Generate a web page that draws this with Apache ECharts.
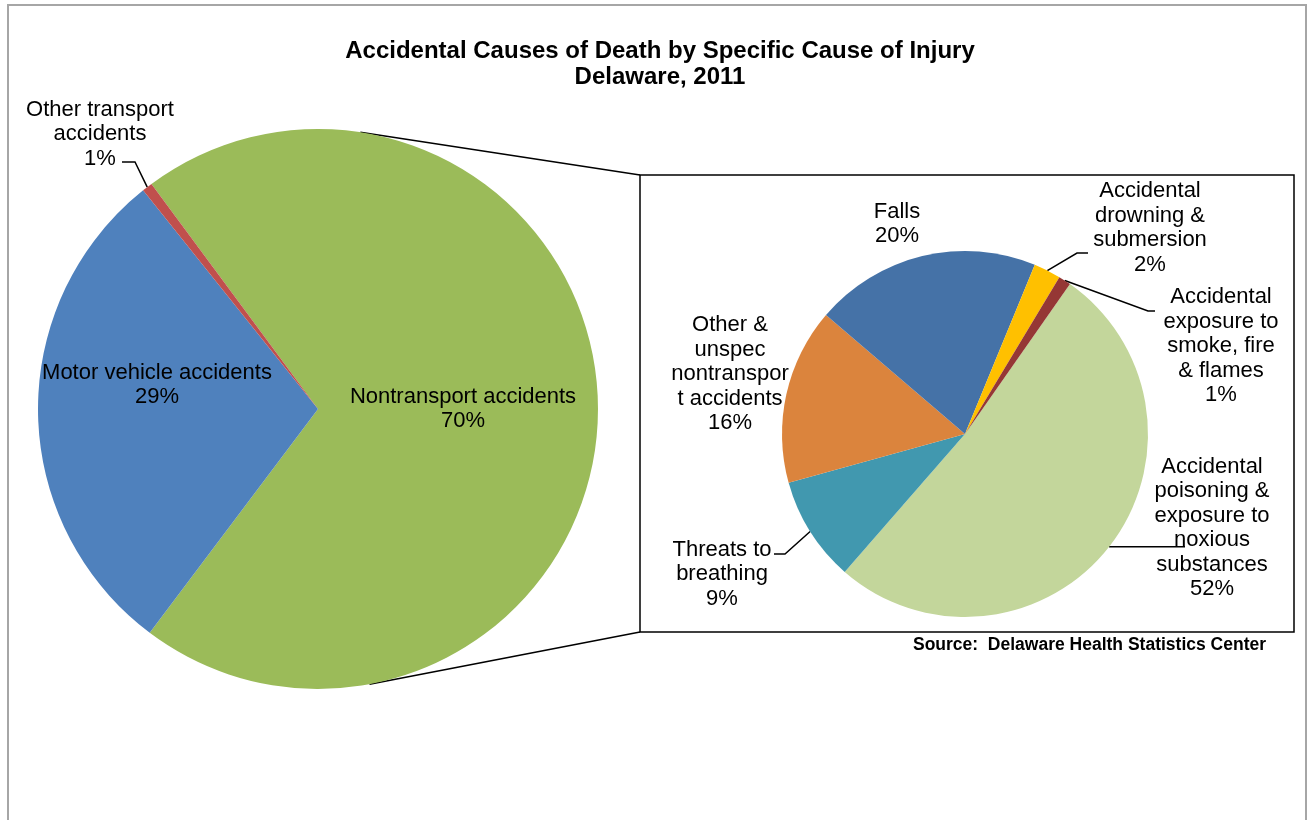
<!DOCTYPE html>
<html><head><meta charset="utf-8">
<script src="https://cdn.jsdelivr.net/npm/echarts@6/dist/echarts.min.js"></script>
<style>html,body{margin:0;padding:0;background:#fff}#c{width:1309px;height:820px}</style>
</head><body><div id="c"></div>
<script>
// ---- data ----
const titleLines = ['Accidental Causes of Death by Specific Cause of Injury', 'Delaware, 2011'];
const sourceText = 'Source:  Delaware Health Statistics Center';

const mainCategories = ['Nontransport accidents', 'Motor vehicle accidents', 'Other transport accidents'];
const mainLabelText = ['Nontransport accidents', 'Motor vehicle accidents', 'Other transport\naccidents'];
const mainValues = [70.4, 29.0, 0.6];

const subCategories = [
  'Accidental poisoning & exposure to noxious substances',
  'Threats to breathing',
  'Other & unspec nontransport accidents',
  'Falls',
  'Accidental drowning & submersion',
  'Accidental exposure to smoke, fire & flames'
];
const subLabelText = [
  'Accidental\npoisoning &\nexposure to\nnoxious\nsubstances',
  'Threats to\nbreathing',
  'Other &\nunspec\nnontranspor\nt accidents',
  'Falls',
  'Accidental\ndrowning &\nsubmersion',
  'Accidental\nexposure to\nsmoke, fire\n& flames'
];
const subValues = [51.8, 9.3, 15.6, 20.0, 2.4, 1.1];

// ---- layout & style ----
const FONT = '"Liberation Sans", Arial, sans-serif';
const MAIN = {cx: 318, cy: 409, r: 280, start: 126.5};
const SUB = {cx: 965, cy: 434, r: 183, start: 55};
const mainColors = ['#9BBB59', '#4F81BD', '#C0504D'];
const subColors = ['#C3D69B', '#4198AF', '#DB843D', '#4572A7', '#FFC000', '#953735'];

const mainLabelPos = [[463, 409], [157, 385], [100, 134]];
const mainLeaderBends = {2: [[135, 162], [122, 162]]};
const subLabelPos = [[1212, 528], [722, 574], [730, 374], [897, 224], [1150, 228], [1221, 346]];
const subLeaderBends = {0: [[1185, null]], 1: [[785, 554], [774, 554]], 4: [[1077, 253], [1088, 253]], 5: [[1148, 311], [1155, 311]]};

function midAngle(values, start, idx) {
  const total = values.reduce((a, b) => a + b, 0);
  let acc = 0;
  for (let i = 0; i < idx; i++) acc += values[i];
  return start - (acc + values[idx] / 2) / total * 360;
}
function edgePoint(g, ang) {
  const a = ang * Math.PI / 180;
  return [g.cx + g.r * Math.cos(a), g.cy - g.r * Math.sin(a)];
}
function leader(g, values, idx, bends) {
  const p0 = edgePoint(g, midAngle(values, g.start, idx));
  return [p0].concat(bends.map(b => [b[0], b[1] == null ? p0[1] : b[1]]));
}

function makeData(cats, vals, texts, colors, bends) {
  return cats.map((c, i) => ({
    name: c, value: vals[i], labelText: texts[i],
    itemStyle: {color: colors[i]},
    labelLine: {show: !!bends[i]}
  }));
}

const labelStyle = {
  show: true, position: 'outside', color: '#000', fontFamily: FONT, fontSize: 22, lineHeight: 24.5,
  align: 'center',
  formatter: p => p.data.labelText + '\n' + Math.round(p.percent) + '%'
};

function layoutFn(g, vals, pos, bends) {
  return function (params) {
    const i = params.dataIndex;
    const out = {x: pos[i][0], y: pos[i][1], align: 'center', verticalAlign: 'middle', hideOverlap: false, moveOverlap: null};
    if (bends[i]) out.labelLinePoints = leader(g, vals, i, bends[i]);
    return out;
  };
}

const chart = echarts.init(document.getElementById('c'), null, {renderer: 'canvas'});

const ang1 = 81.3 * Math.PI / 180, ang2 = -79.4 * Math.PI / 180;
const boxL = 640, boxT = 175, boxR = 1294, boxB = 632;

chart.setOption({
  animation: false,
  backgroundColor: '#fff',
  title: {
    text: titleLines.join('\n'),
    left: 655, top: 33, textAlign: 'center',
    textStyle: {fontFamily: FONT, fontSize: 24, fontWeight: 'bold', color: '#000', lineHeight: 26}
  },
  graphic: [
    {type: 'rect', shape: {x: 8, y: 5, width: 1298, height: 840}, style: {fill: 'none', stroke: '#A6A6A6', lineWidth: 2}, silent: true},
    {type: 'rect', shape: {x: boxL, y: boxT, width: boxR - boxL, height: boxB - boxT}, style: {fill: 'none', stroke: '#000', lineWidth: 1.5}, silent: true},
    {type: 'line', shape: {x1: MAIN.cx + MAIN.r * Math.cos(ang1), y1: MAIN.cy - MAIN.r * Math.sin(ang1), x2: boxL, y2: boxT}, style: {stroke: '#000', lineWidth: 1.5}, silent: true},
    {type: 'line', shape: {x1: MAIN.cx + MAIN.r * Math.cos(ang2), y1: MAIN.cy - MAIN.r * Math.sin(ang2), x2: boxL, y2: boxB}, style: {stroke: '#000', lineWidth: 1.5}, silent: true},
    {type: 'text', x: 1266, y: 645, style: {text: sourceText, fontFamily: FONT, fontSize: 17.5, fontWeight: 'bold', fill: '#000', textAlign: 'right', textVerticalAlign: 'middle'}, silent: true}
  ],
  series: [
    {
      type: 'pie', center: [MAIN.cx, MAIN.cy], radius: MAIN.r, startAngle: MAIN.start, clockwise: true,
      avoidLabelOverlap: false, silent: true, minShowLabelAngle: 0,
      itemStyle: {borderWidth: 0},
      label: labelStyle,
      labelLine: {lineStyle: {color: '#000', width: 1.5}, smooth: false},
      labelLayout: layoutFn(MAIN, mainValues, mainLabelPos, mainLeaderBends),
      emphasis: {disabled: true},
      data: makeData(mainCategories, mainValues, mainLabelText, mainColors, mainLeaderBends)
    },
    {
      type: 'pie', center: [SUB.cx, SUB.cy], radius: SUB.r, startAngle: SUB.start, clockwise: true,
      avoidLabelOverlap: false, silent: true, minShowLabelAngle: 0,
      itemStyle: {borderWidth: 0},
      label: labelStyle,
      labelLine: {lineStyle: {color: '#000', width: 1.5}, smooth: false},
      labelLayout: layoutFn(SUB, subValues, subLabelPos, subLeaderBends),
      emphasis: {disabled: true},
      data: makeData(subCategories, subValues, subLabelText, subColors, subLeaderBends)
    }
  ]
});
</script>
</body></html>
